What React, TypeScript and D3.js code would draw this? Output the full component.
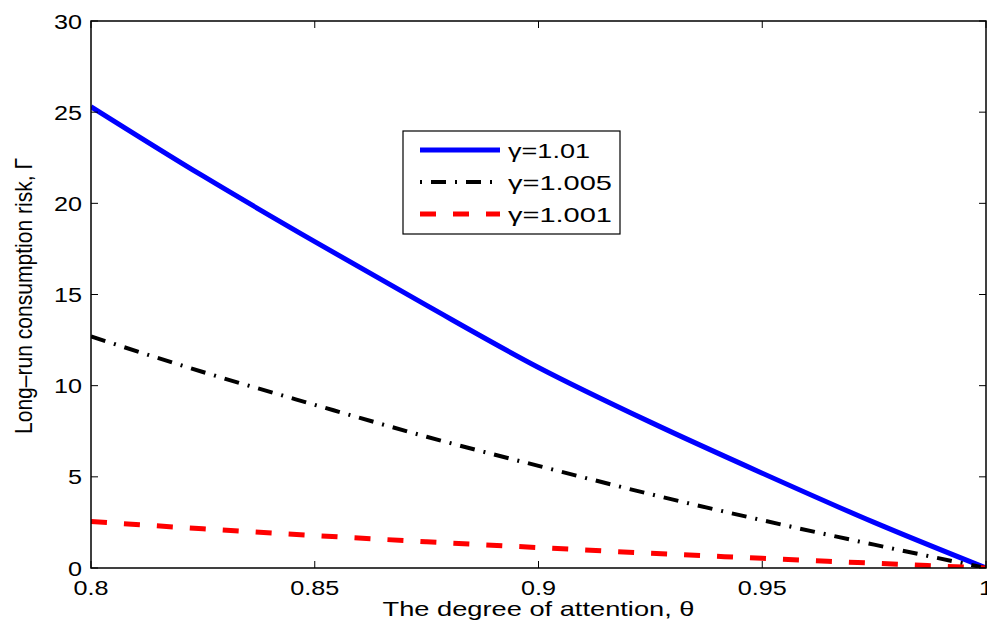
import React, { useEffect, useRef } from 'react';
import * as d3 from 'd3';

const theta = [0.8, 0.825, 0.85, 0.875, 0.9, 0.925, 0.95, 0.975, 1.0];
const gamma101 = [25.3, 21.5, 17.9, 14.4, 11.0, 8.0, 5.2, 2.5, 0];
const gamma1005 = [12.7, 10.75, 8.95, 7.2, 5.6, 4.05, 2.62, 1.28, 0];
const gamma1001 = [2.55, 2.15, 1.78, 1.44, 1.12, 0.81, 0.53, 0.26, 0];
const xTicks = [0.8, 0.85, 0.9, 0.95, 1];
const yTicks = [0, 5, 10, 15, 20, 25, 30];

const series = [
  { name: 'γ=1.01', values: gamma101, color: '#0000ff', dash: null, width: 5, legendLen: 82 },
  { name: 'γ=1.005', values: gamma1005, color: '#000000', dash: '15,9,2,9', width: 4, legendLen: 104 },
  { name: 'γ=1.001', values: gamma1001, color: '#ff0000', dash: '16,17', width: 5, legendLen: 104 },
];

export default function App() {
  const ref = useRef<SVGSVGElement>(null);

  useEffect(() => {
    const width = 987, height = 625;
    const margin = { top: 21, right: 1, bottom: 57, left: 91 };
    const innerWidth = width - margin.left - margin.right;
    const innerHeight = height - margin.top - margin.bottom;
    const font = 'Liberation Sans, Arial, sans-serif';

    const svg = d3.select(ref.current).attr('width', width).attr('height', height);
    svg.selectAll('*').remove();
    const g = svg.append('g').attr('transform', `translate(${margin.left},${margin.top})`);

    const x = d3.scaleLinear().domain([0.8, 1]).range([0, innerWidth]);
    const y = d3.scaleLinear().domain([0, 30]).range([innerHeight, 0]);

    const line = d3.line<number>().x((d, i) => x(theta[i])).y(d => y(d)).curve(d3.curveMonotoneX);

    g.append('defs').append('clipPath').attr('id', 'clip')
      .append('rect').attr('x', 0).attr('y', -5).attr('width', innerWidth).attr('height', innerHeight + 5);

    const lines = g.append('g').attr('clip-path', 'url(#clip)');
    series.forEach(s => {
      lines.append('path').datum(s.values).attr('d', line).attr('fill', 'none')
        .attr('stroke', s.color).attr('stroke-width', s.width)
        .attr('stroke-dasharray', s.dash).attr('stroke-linejoin', 'round');
    });

    // stretched text like the original figure's font
    const label = (parent, tx, ty, txt, size, sx, anchor) =>
      parent.append('text').attr('transform', `translate(${tx},${ty}) scale(${sx},1)`)
        .attr('text-anchor', anchor).style('font-family', font).style('font-size', size + 'px').text(txt);

    // frame and inward ticks on all sides
    g.append('rect').attr('width', innerWidth).attr('height', innerHeight)
      .attr('fill', 'none').attr('stroke', '#000').attr('stroke-width', 1.5);
    const tl = 7;
    xTicks.forEach(t => {
      g.append('line').attr('x1', x(t)).attr('x2', x(t)).attr('y1', innerHeight).attr('y2', innerHeight - tl).attr('stroke', '#000');
      g.append('line').attr('x1', x(t)).attr('x2', x(t)).attr('y1', 0).attr('y2', tl).attr('stroke', '#000');
      label(g, x(t), innerHeight + 27, String(t), 21, 1.2, 'middle');
    });
    yTicks.forEach(t => {
      g.append('line').attr('x1', 0).attr('x2', tl).attr('y1', y(t)).attr('y2', y(t)).attr('stroke', '#000');
      g.append('line').attr('x1', innerWidth).attr('x2', innerWidth - tl).attr('y1', y(t)).attr('y2', y(t)).attr('stroke', '#000');
      label(g, -9, y(t) + 7.5, String(t), 21, 1.2, 'end');
    });

    svg.append('text').attr('x', margin.left + innerWidth / 2).attr('y', 616).attr('text-anchor', 'middle')
      .attr('textLength', 312).attr('lengthAdjust', 'spacingAndGlyphs')
      .style('font-family', font).style('font-size', '21px').text('The degree of attention, θ');
    svg.append('text').attr('transform', `translate(32,296) rotate(-90)`)
      .attr('text-anchor', 'middle').attr('textLength', 276).attr('lengthAdjust', 'spacingAndGlyphs')
      .style('font-family', font).style('font-size', '24px').text('Long–run consumption risk, Γ');

    // legend
    const lg = svg.append('g').attr('transform', 'translate(403,131)');
    lg.append('rect').attr('width', 217).attr('height', 103).attr('fill', '#fff').attr('stroke', '#000').attr('stroke-width', 1.2);
    series.forEach((s, i) => {
      const ly = 19 + i * 32;
      lg.append('line').attr('x1', 17).attr('x2', 97).attr('y1', ly).attr('y2', ly)
        .attr('stroke', s.color).attr('stroke-width', s.width).attr('stroke-dasharray', i === 1 ? '2,9,15,9' : s.dash);
      lg.append('text').attr('x', 105).attr('y', ly + 7.5)
        .attr('textLength', s.legendLen).attr('lengthAdjust', 'spacingAndGlyphs')
        .style('font-family', font).style('font-size', '21px').text(s.name);
    });
  }, []);

  return <svg ref={ref} style={{ position: 'absolute', left: 0, top: 0 }}></svg>;
}
